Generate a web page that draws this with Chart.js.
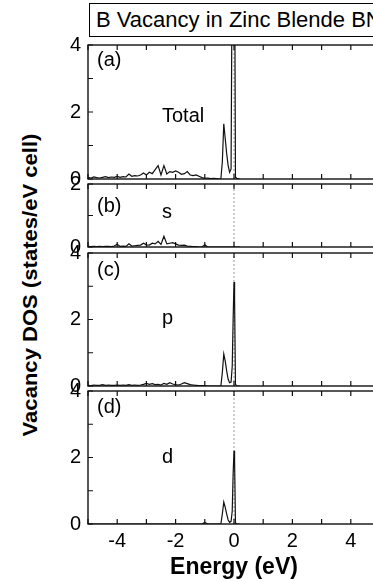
<!DOCTYPE html>
<html>
<head>
<meta charset="utf-8">
<script src="https://cdn.jsdelivr.net/npm/chart.js@4.4.0/dist/chart.umd.min.js"></script>
<style>
    html, body { margin: 0; padding: 0; width: 373px; height: 582px; overflow: hidden; background: #fff; }
    canvas { position: absolute; left: 0; }
    #title {
        position: absolute; left: 89px; top: 3px; width: 330px; height: 34px;
        border: 1px solid #000; box-sizing: border-box; padding-left: 6px;
        font: 22px "Liberation Sans", Arial, sans-serif; line-height: 32px; white-space: nowrap;
    }
    #ytitle {
        position: absolute; left: -130px; top: 272px; width: 320px; height: 26px;
        text-align: center; white-space: nowrap;
        font: bold 21px "Liberation Sans", Arial, sans-serif; line-height: 26px;
        transform: rotate(-90deg) scaleX(1.05);
    }
</style>
</head>
<body>
<div id="title">B Vacancy in Zinc Blende BN</div>
<div id="ytitle">Vacancy DOS (states/eV cell)</div>
<canvas id="panelA"></canvas>
<canvas id="panelB"></canvas>
<canvas id="panelC"></canvas>
<canvas id="panelD"></canvas>
<script>
// Energy grid (eV)
const energy = [
    -5.0, -4.9, -4.8, -4.7, -4.6, -4.5, -4.4, -4.3, -4.2, -4.1,
    -4.0, -3.9, -3.8, -3.7, -3.6, -3.5, -3.4, -3.3, -3.2, -3.1,
    -3.0, -2.9, -2.8, -2.7, -2.6, -2.5, -2.4, -2.3, -2.2, -2.1,
    -2.0, -1.9, -1.8, -1.7, -1.6, -1.5, -1.4, -1.3, -1.2, -1.1,
    -1.0, -0.9, -0.8, -0.7, -0.6, -0.5, -0.45, -0.4, -0.35, -0.3,
    -0.25, -0.2, -0.15, -0.1, -0.06, -0.03, 0.0, 0.02, 0.05, 0.1, 0.2
];

// Total DOS (peak at E_F runs off the top of the panel)
const dosTotal = [
    0.05, 0.03, 0.06, 0.04, 0.03, 0.05, 0.07, 0.04, 0.06, 0.05,
    0.08, 0.05, 0.07, 0.06, 0.15, 0.08, 0.10, 0.09, 0.12, 0.18,
    0.12, 0.20, 0.16, 0.28, 0.40, 0.12, 0.40, 0.15, 0.22, 0.20,
    0.24, 0.20, 0.14, 0.16, 0.22, 0.12, 0.10, 0.12, 0.08, 0.04,
    0.02, 0.03, 0.01, 0.02, 0.01, 0.00, 0.00, 0.50, 1.65, 1.20,
    0.75, 0.40, 0.20, 0.30, 7.00, 8.00, 8.00, 7.00, 0.05, 0.02, 0.00
];

// s-projected DOS
const dosS = [
    0.02, 0.01, 0.02, 0.01, 0.02, 0.01, 0.02, 0.02, 0.01, 0.03,
    0.09, 0.02, 0.03, 0.02, 0.10, 0.03, 0.04, 0.05, 0.06, 0.12,
    0.07, 0.06, 0.12, 0.10, 0.18, 0.08, 0.34, 0.10, 0.12, 0.14,
    0.10, 0.06, 0.05, 0.06, 0.03, 0.02, 0.01, 0.01, 0.00, 0.00,
    0.07, 0.00, 0.00, 0.00, 0.00, 0.00, 0.00, 0.00, 0.00, 0.00,
    0.00, 0.00, 0.00, 0.00, 0.00, 0.00, 0.00, 0.00, 0.00, 0.00, 0.00
];

// p-projected DOS
const dosP = [
    0.02, 0.01, 0.03, 0.02, 0.02, 0.04, 0.02, 0.03, 0.02, 0.02,
    0.03, 0.02, 0.03, 0.02, 0.04, 0.02, 0.03, 0.02, 0.03, 0.05,
    0.08, 0.05, 0.07, 0.04, 0.05, 0.03, 0.08, 0.05, 0.10, 0.06,
    0.04, 0.03, 0.06, 0.10, 0.07, 0.04, 0.03, 0.02, 0.01, 0.01,
    0.01, 0.00, 0.00, 0.00, 0.00, 0.00, 0.00, 0.40, 0.96, 0.75,
    0.45, 0.20, 0.10, 0.12, 0.60, 2.00, 3.13, 2.60, 0.05, 0.00, 0.00
];

// d-projected DOS
const dosD = [
    0.00, 0.00, 0.00, 0.00, 0.00, 0.00, 0.00, 0.00, 0.00, 0.00,
    0.00, 0.00, 0.00, 0.00, 0.00, 0.00, 0.00, 0.00, 0.00, 0.00,
    0.00, 0.00, 0.00, 0.00, 0.00, 0.00, 0.00, 0.00, 0.00, 0.00,
    0.00, 0.00, 0.00, 0.00, 0.00, 0.00, 0.00, 0.00, 0.00, 0.00,
    0.05, 0.00, 0.00, 0.00, 0.00, 0.00, 0.00, 0.30, 0.66, 0.50,
    0.30, 0.12, 0.05, 0.08, 0.40, 1.50, 2.20, 1.90, 0.03, 0.00, 0.00
];

const panelTags = ['(a)', '(b)', '(c)', '(d)'];
const panelNames = ['Total', 's', 'p', 'd'];
const panelYMax = [4, 2, 4, 4];

// Layout (pixels)
const CANVAS_W = 420;
const PLOT_LEFT = 88;
const PLOT_RIGHT = 380;
const PAD = 14;
const PAGE_H = 582;
const panelTop = [45, 184, 253, 391];
const panelBottom = [179, 247, 386, 524];
const tagDy = [21, 28, 23, 22];
const nameDy = [77, 34, 71, 72];

const FONT = '"Liberation Sans", Arial, sans-serif';
Chart.defaults.font.family = FONT;
Chart.defaults.color = '#000';

// Frame with inward ticks
const framePlugin = {
    id: 'frame',
    afterDatasetsDraw(chart) {
        const { ctx, chartArea: { left, right, top, bottom }, scales: { x, y } } = chart;
        ctx.save();
        ctx.strokeStyle = '#111';
        ctx.lineWidth = 1.4;
        ctx.strokeRect(left, top, right - left, bottom - top);
        ctx.lineWidth = 1.2;
        ctx.beginPath();
        for (let v = Math.ceil(x.min); v <= x.max; v++) {
            const px = x.getPixelForValue(v);
            ctx.moveTo(px, bottom); ctx.lineTo(px, bottom - 5);
            ctx.moveTo(px, top); ctx.lineTo(px, top + 5);
        }
        for (let v = 0; v <= y.max; v++) {
            const py = y.getPixelForValue(v);
            ctx.moveTo(left, py); ctx.lineTo(left + 5, py);
        }
        ctx.stroke();
        ctx.restore();
    }
};

// Panel tag and orbital name
const panelTextPlugin = {
    id: 'panelText',
    afterDraw(chart, args, opts) {
        const { ctx, chartArea } = chart;
        ctx.save();
        ctx.font = '20px ' + FONT;
        ctx.fillStyle = '#000';
        ctx.textBaseline = 'alphabetic';
        ctx.fillText(opts.tag, chartArea.left + 9, chartArea.top + opts.tagDy);
        ctx.fillText(opts.name, chartArea.left + 74, chartArea.top + opts.nameDy);
        ctx.restore();
    }
};

function makePanel(id, idx, values) {
    const last = idx === 3;
    const canvas = document.getElementById(id);
    const top = panelTop[idx] - PAD;
    const height = last ? PAGE_H - top : panelBottom[idx] - panelTop[idx] + 2 * PAD;
    canvas.width = CANVAS_W;
    canvas.height = height;
    canvas.style.top = top + 'px';
    canvas.style.width = CANVAS_W + 'px';
    canvas.style.height = height + 'px';

    const xAxisH = last ? height - PAD - (panelBottom[idx] - panelTop[idx]) : 0;

    return new Chart(canvas, {
        type: 'line',
        data: {
            datasets: [{
                data: energy.map((e, i) => ({ x: e, y: values[i] })),
                borderColor: '#111',
                borderWidth: 1.2,
                pointRadius: 0,
                tension: 0
            }, {
                data: [{ x: 0, y: 0 }, { x: 0, y: panelYMax[idx] }],
                borderColor: '#999',
                borderWidth: 1,
                borderDash: [2, 2],
                pointRadius: 0
            }]
        },
        options: {
            responsive: false,
            animation: false,
            layout: { padding: { top: PAD, bottom: last ? 0 : PAD, left: 0, right: CANVAS_W - PLOT_RIGHT } },
            plugins: {
                legend: { display: false },
                tooltip: { enabled: false },
                panelText: { tag: panelTags[idx], name: panelNames[idx], tagDy: tagDy[idx], nameDy: nameDy[idx] }
            },
            scales: {
                x: {
                    type: 'linear',
                    min: -5,
                    max: 5,
                    display: last,
                    grid: { display: false, drawTicks: false },
                    border: { display: false },
                    ticks: {
                        stepSize: 1,
                        autoSkip: false,
                        maxRotation: 0,
                        padding: 5,
                        font: { size: 20 },
                        callback: v => (v % 2 === 0 ? String(v) : '')
                    },
                    title: {
                        display: true,
                        text: 'Energy (eV)',
                        font: { size: 23, weight: 'bold' },
                        padding: { top: 0, bottom: 1 }
                    },
                    afterFit: s => { s.height = xAxisH; s.paddingLeft = 0; s.paddingRight = 0; }
                },
                y: {
                    min: 0,
                    max: panelYMax[idx],
                    grid: { display: false, drawTicks: false },
                    border: { display: false },
                    ticks: {
                        stepSize: 1,
                        padding: 7,
                        font: { size: 20 },
                        callback: v => (v % 2 === 0 ? String(v) : '')
                    },
                    // fixed axis width; label overhang must not shrink the plot
                    afterFit: s => { s.width = PLOT_LEFT; s.paddingTop = 0; s.paddingBottom = 0; }
                }
            }
        },
        plugins: [framePlugin, panelTextPlugin]
    });
}

makePanel('panelA', 0, dosTotal);
makePanel('panelB', 1, dosS);
makePanel('panelC', 2, dosP);
makePanel('panelD', 3, dosD);
</script>
</body>
</html>
